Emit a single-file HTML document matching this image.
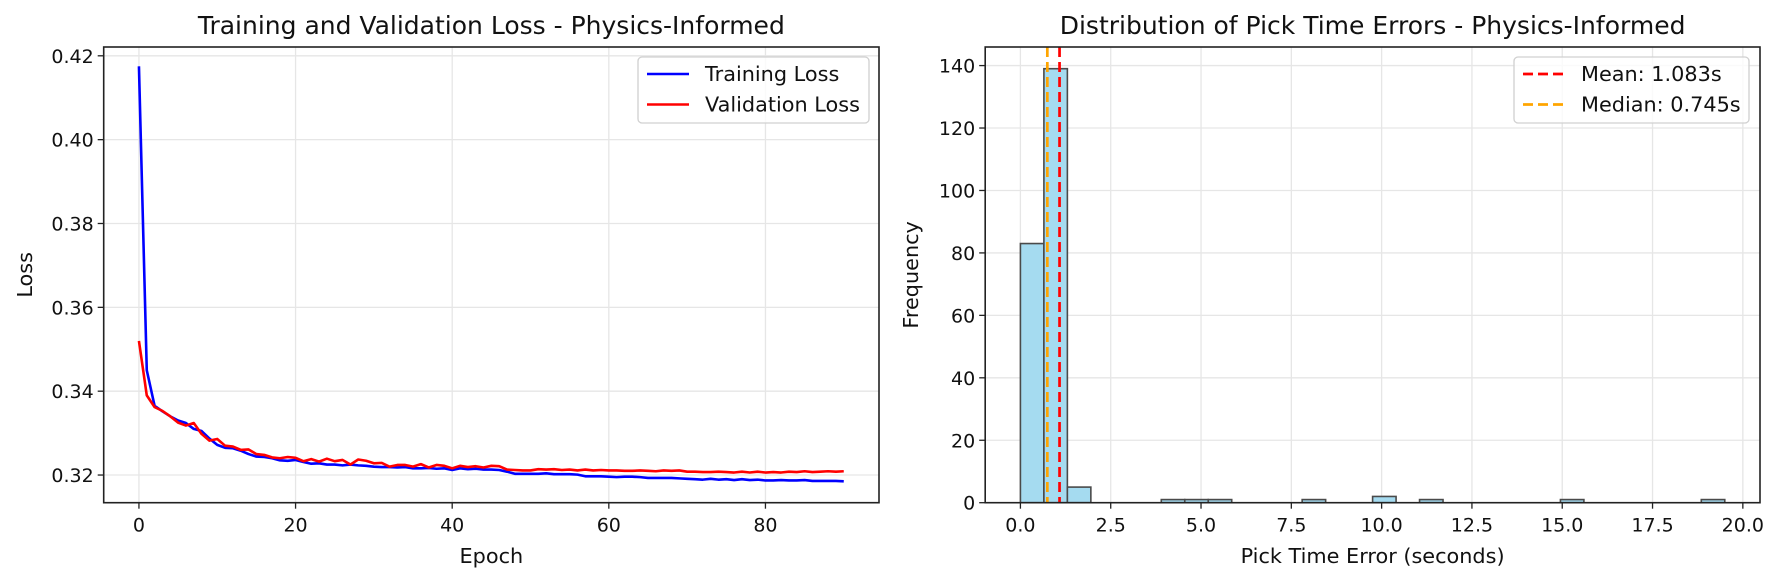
<!DOCTYPE html>
<html><head><meta charset="utf-8">
<style>
html,body{margin:0;padding:0;background:#fff;}
svg{display:block;font-family:"DejaVu Sans","Liberation Sans",sans-serif;}
</style></head>
<body>
<svg id="chart" width="1781" height="581" viewBox="0 0 1781 581" xmlns="http://www.w3.org/2000/svg">
<rect width="1781" height="581" fill="#fff"/>
</svg>
<script>
// ---- Loss chart data ----
const epochs = Array.from({length: 91}, (_, i) => i);
const trainLoss = [0.4175,0.3450,0.3365,0.3352,0.3340,0.3330,0.3324,0.3310,0.3305,0.3287,0.3272,0.3265,0.3264,0.3258,0.3250,0.3244,0.3243,0.3240,0.3235,0.3234,0.3236,0.3231,0.3227,0.3228,0.3225,0.3225,0.3223,0.3225,0.3223,0.3222,0.3220,0.3219,0.3219,0.3218,0.3219,0.3216,0.3216,0.3217,0.3215,0.3216,0.3212,0.3216,0.3214,0.3215,0.3213,0.3213,0.3212,0.3208,0.3203,0.3203,0.3203,0.3203,0.3204,0.3202,0.3202,0.3202,0.3201,0.3197,0.3197,0.3197,0.3196,0.3195,0.3196,0.3196,0.3195,0.3193,0.3193,0.3193,0.3193,0.3192,0.3191,0.3190,0.3189,0.3191,0.3189,0.3190,0.3188,0.3190,0.3188,0.3189,0.3187,0.3187,0.3188,0.3187,0.3187,0.3188,0.3186,0.3186,0.3186,0.3186,0.3185];
const valLoss = [0.3520,0.3390,0.3362,0.3353,0.3340,0.3325,0.3318,0.3324,0.3298,0.3282,0.3286,0.3270,0.3268,0.3260,0.3261,0.3250,0.3248,0.3242,0.3240,0.3243,0.3241,0.3233,0.3238,0.3232,0.3239,0.3233,0.3236,0.3225,0.3237,0.3234,0.3228,0.3229,0.3220,0.3224,0.3224,0.3220,0.3226,0.3218,0.3224,0.3222,0.3216,0.3222,0.3219,0.3221,0.3218,0.3222,0.3221,0.3213,0.3212,0.3211,0.3211,0.3214,0.3213,0.3214,0.3212,0.3213,0.3211,0.3213,0.3211,0.3212,0.3211,0.3211,0.3210,0.3210,0.3211,0.3210,0.3209,0.3211,0.3210,0.3211,0.3208,0.3208,0.3207,0.3207,0.3208,0.3207,0.3206,0.3208,0.3206,0.3208,0.3206,0.3207,0.3206,0.3208,0.3207,0.3209,0.3207,0.3208,0.3209,0.3208,0.3209];
const lossXTicks = [0,20,40,60,80];
const lossYTicks = [0.32,0.34,0.36,0.38,0.40,0.42];
const lossYTickLabels = ["0.32","0.34","0.36","0.38","0.40","0.42"];

// ---- Histogram data ----
const binStart = 0;
const binWidth = 0.65;
const binCounts = [83,139,5,0,0,0,1,1,1,0,0,0,1,0,0,2,0,1,0,0,0,0,0,1,0,0,0,0,0,1];
const meanVal = 1.083;
const medianVal = 0.745;
const histXTicks = [0,2.5,5,7.5,10,12.5,15,17.5,20];
const histXTickLabels = ["0.0","2.5","5.0","7.5","10.0","12.5","15.0","17.5","20.0"];
const histYTicks = [0,20,40,60,80,100,120,140];

const NS = "http://www.w3.org/2000/svg";
const svg = document.getElementById('chart');
function mk(tag, attrs, parent){ const e=document.createElementNS(NS,tag); for(const k in attrs) e.setAttribute(k,attrs[k]); (parent||svg).appendChild(e); return e; }
function txt(s, attrs, parent){ const e=mk('text',attrs,parent); e.textContent=s; return e; }

const TOP=47, BOT=502.7;
const L = {x0:103.7, x1:879, xmin:-4.5, xmax:94.5, ymin:0.3134, ymax:0.4221};
const lx = v => L.x0 + (v-L.xmin)/(L.xmax-L.xmin)*(L.x1-L.x0);
const ly = v => BOT - (v-L.ymin)/(L.ymax-L.ymin)*(BOT-TOP);
const R = {x0:985.2, x1:1760, xmin:-0.975, xmax:20.475, ymin:0, ymax:145.95};
const rx = v => R.x0 + (v-R.xmin)/(R.xmax-R.xmin)*(R.x1-R.x0);
const ry = v => BOT - (v-R.ymin)/(R.ymax-R.ymin)*(BOT-TOP);

const GRID="#e6e6e6", FS=19, LFS=20.8, TFS=25;

// ===== LEFT CHART =====
const gL = mk('g',{});


lossXTicks.forEach(t=>{
  const g=mk('line',{x1:lx(t),x2:lx(t),y1:TOP,y2:BOT,stroke:GRID,'stroke-width':1.3},gL);
   
  mk('line',{x1:lx(t),x2:lx(t),y1:BOT,y2:BOT+6,stroke:'#222','stroke-width':1.3},gL);
  const l=txt(String(t),{x:lx(t),y:BOT+29,'font-size':FS,'text-anchor':'middle',fill:'#111'},gL);
   
});
lossYTicks.forEach((t,i)=>{
  const g=mk('line',{x1:L.x0,x2:L.x1,y1:ly(t),y2:ly(t),stroke:GRID,'stroke-width':1.3},gL);
   
  mk('line',{x1:L.x0-6,x2:L.x0,y1:ly(t),y2:ly(t),stroke:'#222','stroke-width':1.3},gL);
  const l=txt(lossYTickLabels[i],{x:L.x0-10,y:ly(t)+7,'font-size':FS,'text-anchor':'end',fill:'#111'},gL);
   
});
function poly(data, color, name){
  const p=mk('polyline',{points:data.map((v,i)=>lx(epochs[i])+','+ly(v)).join(' '),fill:'none',stroke:color,'stroke-width':2.6,'stroke-linejoin':'round'},gL);
   
}
poly(trainLoss,'#0000ff','training-loss-line');
poly(valLoss,'#ff0000','validation-loss-line');
mk('rect',{x:L.x0,y:TOP,width:L.x1-L.x0,height:BOT-TOP,fill:'none',stroke:'#222','stroke-width':1.6},gL);
let t1=txt('Training and Validation Loss - Physics-Informed',{x:(L.x0+L.x1)/2,y:34,'font-size':TFS,'text-anchor':'middle',fill:'#111'},gL);
 
let xl=txt('Epoch',{x:(L.x0+L.x1)/2,y:563,'font-size':LFS,'text-anchor':'middle',fill:'#111'},gL);
 
let yl=txt('Loss',{x:0,y:0,'font-size':LFS,'text-anchor':'middle',fill:'#111',transform:`translate(32,${(TOP+BOT)/2}) rotate(-90)`},gL);
 
const lg=mk('g',{},gL);
 
mk('rect',{x:638,y:57,width:231,height:66,rx:4,fill:'#fff','fill-opacity':0.8,stroke:'#d0d0d0','stroke-width':1.3},lg);
[['Training Loss','#0000ff',74],['Validation Loss','#ff0000',104.5]].forEach(([s,c,y])=>{
  const e=mk('g',{},lg);  
  mk('line',{x1:647,x2:689,y1:y,y2:y,stroke:c,'stroke-width':2.6},e);
  txt(s,{x:705,y:y+7,'font-size':LFS,fill:'#111'},e);
});

// ===== RIGHT CHART =====
const gR = mk('g',{});


histXTicks.forEach((t,i)=>{
  const g=mk('line',{x1:rx(t),x2:rx(t),y1:TOP,y2:BOT,stroke:GRID,'stroke-width':1.3},gR);
   
  mk('line',{x1:rx(t),x2:rx(t),y1:BOT,y2:BOT+6,stroke:'#222','stroke-width':1.3},gR);
  const l=txt(histXTickLabels[i],{x:rx(t),y:BOT+29,'font-size':FS,'text-anchor':'middle',fill:'#111'},gR);
   
});
histYTicks.forEach(t=>{
  const g=mk('line',{x1:R.x0,x2:R.x1,y1:ry(t),y2:ry(t),stroke:GRID,'stroke-width':1.3},gR);
   
  mk('line',{x1:R.x0-6,x2:R.x0,y1:ry(t),y2:ry(t),stroke:'#222','stroke-width':1.3},gR);
  const l=txt(String(t),{x:R.x0-10,y:ry(t)+7,'font-size':FS,'text-anchor':'end',fill:'#111'},gR);
   
});
binCounts.forEach((c,i)=>{
  if(c<=0) return;
  const a=binStart+i*binWidth, b=a+binWidth;
  const r=mk('rect',{x:rx(a),y:ry(c),width:rx(b)-rx(a),height:ry(0)-ry(c),fill:'#a5dbf0',stroke:'#4a4a4a','stroke-width':1.6},gR);
   
});
const med=mk('line',{x1:rx(medianVal),x2:rx(medianVal),y1:TOP,y2:BOT,stroke:'#ffa500','stroke-width':2.7,'stroke-dasharray':'10,5'},gR);
 
const mean=mk('line',{x1:rx(meanVal),x2:rx(meanVal),y1:TOP,y2:BOT,stroke:'#ff0000','stroke-width':2.7,'stroke-dasharray':'10,5'},gR);
 
mk('rect',{x:R.x0,y:TOP,width:R.x1-R.x0,height:BOT-TOP,fill:'none',stroke:'#222','stroke-width':1.6},gR);
let t2=txt('Distribution of Pick Time Errors - Physics-Informed',{x:(R.x0+R.x1)/2,y:34,'font-size':TFS,'text-anchor':'middle',fill:'#111'},gR);
 
let xl2=txt('Pick Time Error (seconds)',{x:(R.x0+R.x1)/2,y:563,'font-size':LFS,'text-anchor':'middle',fill:'#111'},gR);
 
let yl2=txt('Frequency',{x:0,y:0,'font-size':LFS,'text-anchor':'middle',fill:'#111',transform:`translate(918,${(TOP+BOT)/2}) rotate(-90)`},gR);
 
const rg=mk('g',{},gR);
 
mk('rect',{x:1514,y:57,width:235,height:66,rx:4,fill:'#fff','fill-opacity':0.8,stroke:'#d0d0d0','stroke-width':1.3},rg);
[['Mean: 1.083s','#ff0000',74],['Median: 0.745s','#ffa500',104.5]].forEach(([s,c,y])=>{
  const e=mk('g',{},rg);  
  mk('line',{x1:1523,x2:1565,y1:y,y2:y,stroke:c,'stroke-width':2.7,'stroke-dasharray':'10,5'},e);
  txt(s,{x:1581,y:y+7,'font-size':LFS,fill:'#111'},e);
});
</script>
</body></html>
